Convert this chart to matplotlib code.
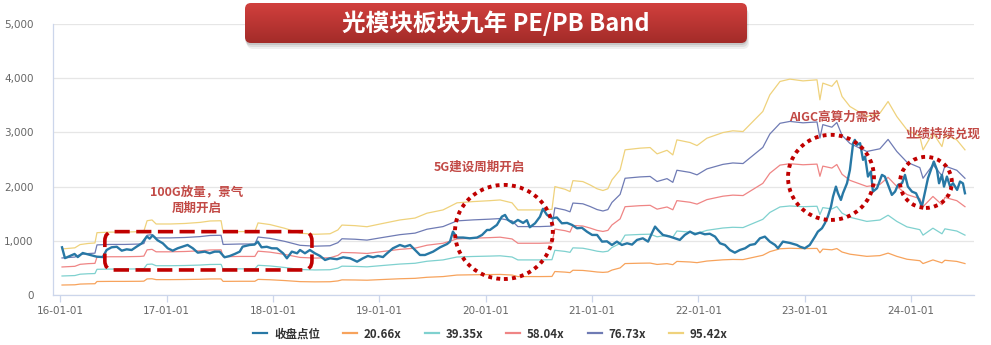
import matplotlib
matplotlib.use("Agg")
import matplotlib.pyplot as plt
import matplotlib.dates as mdates
from matplotlib.patches import FancyBboxPatch, Ellipse
from matplotlib.ticker import FuncFormatter, MultipleLocator
import numpy as np
import pandas as pd

plt.rcParams['font.family'] = ['Noto Sans CJK SC', 'DejaVu Sans']

# 收盘点位 (index close)
close_dates = [
    '2016-01-08', '2016-01-18', '2016-02-04', '2016-02-20', '2016-03-02', '2016-03-19',
    '2016-04-12', '2016-05-06', '2016-05-27', '2016-06-09', '2016-06-26', '2016-07-14',
    '2016-07-31', '2016-08-17', '2016-09-03', '2016-09-20', '2016-10-08', '2016-10-25',
    '2016-11-04', '2016-11-14', '2016-12-01', '2016-12-19', '2017-01-05', '2017-01-22',
    '2017-02-08', '2017-02-25', '2017-03-14', '2017-04-01', '2017-04-18', '2017-05-12',
    '2017-05-29', '2017-06-15', '2017-07-02', '2017-07-19', '2017-08-06', '2017-08-23',
    '2017-09-09', '2017-09-19', '2017-10-13', '2017-10-30', '2017-11-10', '2017-11-23',
    '2017-12-11', '2017-12-28', '2018-01-15', '2018-02-05', '2018-02-18', '2018-03-07',
    '2018-03-25', '2018-04-04', '2018-04-21', '2018-05-08', '2018-05-25', '2018-06-12',
    '2018-06-29', '2018-07-16', '2018-08-09', '2018-08-30', '2018-09-23', '2018-10-17',
    '2018-11-06', '2018-11-23', '2018-12-11', '2018-12-28', '2019-01-14', '2019-01-28',
    '2019-02-17', '2019-03-13', '2019-03-30', '2019-04-17', '2019-05-04', '2019-05-21',
    '2019-06-07', '2019-07-05', '2019-07-29', '2019-08-22', '2019-09-01', '2019-09-11',
    '2019-09-25', '2019-10-16', '2019-11-08', '2019-12-03', '2019-12-20', '2020-01-06',
    '2020-01-16', '2020-02-09', '2020-02-26', '2020-03-08', '2020-03-18', '2020-04-04',
    '2020-04-21', '2020-05-09', '2020-05-22', '2020-06-01', '2020-06-19', '2020-07-06',
    '2020-07-16', '2020-07-30', '2020-08-16', '2020-09-02', '2020-09-19', '2020-10-07',
    '2020-10-24', '2020-11-10', '2020-11-27', '2020-12-14', '2021-01-01', '2021-01-18',
    '2021-02-04', '2021-02-21', '2021-03-10', '2021-03-27', '2021-04-13', '2021-05-01',
    '2021-05-18', '2021-06-04', '2021-06-24', '2021-07-12', '2021-07-25', '2021-08-05',
    '2021-08-15', '2021-09-01', '2021-09-25', '2021-10-12', '2021-10-29', '2021-11-15',
    '2021-12-03', '2021-12-20', '2022-01-06', '2022-01-23', '2022-02-09', '2022-02-27',
    '2022-03-16', '2022-04-02', '2022-04-19', '2022-05-06', '2022-05-23', '2022-06-10',
    '2022-06-27', '2022-07-14', '2022-07-31', '2022-08-17', '2022-09-03', '2022-09-21',
    '2022-10-01', '2022-10-18', '2022-11-11', '2022-12-05', '2022-12-15', '2023-01-01',
    '2023-01-18', '2023-02-05', '2023-02-15', '2023-03-01', '2023-03-11', '2023-03-21',
    '2023-04-01', '2023-04-08', '2023-04-18', '2023-04-25', '2023-05-05', '2023-05-12',
    '2023-05-26', '2023-06-05', '2023-06-16', '2023-06-22', '2023-06-29', '2023-07-10',
    '2023-07-20', '2023-07-27', '2023-08-06', '2023-08-16', '2023-08-23', '2023-09-06',
    '2023-09-23', '2023-10-03', '2023-10-14', '2023-10-27', '2023-11-07', '2023-11-17',
    '2023-12-01', '2023-12-11', '2023-12-21', '2024-01-04', '2024-01-18', '2024-01-31',
    '2024-02-07', '2024-02-17', '2024-02-28', '2024-03-13', '2024-03-19', '2024-03-30',
    '2024-04-06', '2024-04-16', '2024-04-23', '2024-05-03', '2024-05-14', '2024-05-24',
    '2024-06-07', '2024-06-17', '2024-06-27', '2024-07-04',
]
close = [
    880, 680, 720, 757, 700, 775,
    740, 707, 700, 830, 880, 890,
    818, 843, 830, 892, 954, 1080,
    1040, 1100, 1010, 954, 862, 818,
    862, 892, 923, 862, 781, 800,
    770, 800, 800, 696, 720, 757,
    800, 892, 923, 930, 985, 880,
    890, 862, 860, 770, 677, 800,
    770, 830, 770, 830, 770, 720,
    646, 677, 660, 696, 677, 615,
    677, 720, 696, 720, 700, 770,
    862, 923, 892, 923, 830, 738,
    738, 800, 880, 941, 985, 1169,
    1060, 1060, 1046, 1060, 1108, 1200,
    1200, 1293, 1446, 1477, 1385, 1323,
    1385, 1330, 1380, 1250, 1323, 1446,
    1590, 1477, 1416, 1430, 1323, 1330,
    1293, 1231, 1240, 1169, 1108, 1108,
    985, 990, 923, 985, 923, 954,
    930, 1016, 1046, 985, 1139, 1262,
    1200, 1108, 1077, 1046, 1016, 1108,
    1169, 1120, 1150, 1120, 1130, 1077,
    954, 923, 830, 781, 830, 862,
    923, 940, 1046, 1077, 985, 923,
    862, 985, 960, 923, 892, 862,
    923, 1077, 1169, 1231, 1323, 1446,
    1631, 1815, 2000, 1877, 1754, 1877,
    2062, 2308, 2801, 2862, 2770, 2801,
    2493, 2555, 2185, 2278, 1908, 1970,
    2216, 2185, 2031, 1847, 1908, 2031,
    2062, 2216, 2000, 1908, 1877, 1723,
    1631, 1877, 2155, 2370, 2462, 2308,
    2062, 2216, 2000, 2185, 2000, 2062,
    1939, 2093, 2060, 1877,
]

# earnings per index point behind the PE bands
band_dates = [
    '2016-01-08', '2016-02-21', '2016-03-10', '2016-04-06', '2016-04-30', '2016-05-07',
    '2016-06-21', '2016-08-11', '2016-10-02', '2016-10-15', '2016-10-26', '2016-11-12',
    '2016-11-26', '2017-01-13', '2017-03-05', '2017-04-26', '2017-05-30', '2017-07-07',
    '2017-07-14', '2017-09-10', '2017-10-31', '2017-11-11', '2017-12-22', '2018-02-11',
    '2018-04-04', '2018-05-25', '2018-07-16', '2018-08-12', '2018-08-26', '2018-10-10',
    '2018-11-20', '2019-01-04', '2019-03-13', '2019-05-04', '2019-06-14', '2019-08-08',
    '2019-09-25', '2019-11-19', '2020-01-16', '2020-02-20', '2020-04-01', '2020-04-21',
    '2020-07-06', '2020-08-16', '2020-08-26', '2020-09-30', '2020-10-17', '2020-10-27',
    '2020-11-30', '2020-12-25', '2021-01-18', '2021-02-07', '2021-02-24', '2021-03-10',
    '2021-04-07', '2021-04-24', '2021-06-14', '2021-07-19', '2021-08-12', '2021-09-15',
    '2021-10-05', '2021-10-19', '2021-12-03', '2021-12-27', '2022-01-30', '2022-03-26',
    '2022-04-29', '2022-06-03', '2022-07-07', '2022-08-10', '2022-09-03', '2022-10-08',
    '2022-11-11', '2022-12-26', '2023-02-12', '2023-02-22', '2023-03-04', '2023-04-04',
    '2023-04-21', '2023-05-09', '2023-06-05', '2023-08-02', '2023-09-16', '2023-10-14',
    '2023-11-13', '2023-12-18', '2024-01-31', '2024-02-11', '2024-03-16', '2024-04-16',
    '2024-04-26', '2024-06-06', '2024-07-04',
]
eps = [
    8.91, 9.12, 9.75, 9.96, 10.06, 12.05,
    12.16, 12.16, 12.26, 12.37, 14.36, 14.51,
    13.73, 13.73, 13.83, 14.04, 14.31, 14.36,
    12.16, 12.26, 12.26, 13.94, 13.62, 12.89,
    11.95, 11.74, 11.84, 12.58, 13.52, 13.41,
    13.20, 13.73, 14.51, 14.88, 15.82, 16.45,
    17.82, 18.06, 18.24, 18.38, 17.82, 16.45,
    16.45, 16.56, 20.96, 20.44, 20.00, 22.11,
    21.93, 21.28, 20.54, 20.20, 20.54, 22.26,
    24.19, 28.07, 28.39, 28.51, 27.29, 27.98,
    27.09, 30.00, 29.48, 28.89, 30.32, 31.41,
    31.75, 31.61, 33.55, 35.49, 38.70, 41.29,
    41.74, 41.40, 41.61, 37.74, 40.97, 40.35,
    41.48, 38.38, 36.45, 34.51, 35.16, 37.41,
    34.51, 31.93, 30.63, 28.07, 31.33, 28.70,
    31.02, 29.99, 28.07,
]
pe_multiples = [20.66, 39.35, 58.04, 76.73, 95.42]
band_colors = ['#f7a35c', '#7fd1cf', '#ef8585', '#6f7bb4', '#efd27c']
close_color = '#2878a5'
mark_red = '#c00000'
note_red = '#c24a46'

close_dates = pd.to_datetime(close_dates)
band_dates = pd.to_datetime(band_dates)
eps = np.array(eps)

fig = plt.figure(figsize=(9.91, 3.45), dpi=100)
ax = fig.add_axes([53 / 991, 1 - 295 / 345, 921 / 991, 271 / 345])

handles = []
for m, c in zip(pe_multiples, band_colors):
    h, = ax.plot(band_dates, eps * m, color=c, lw=0.9, label=f'{m:.2f}x', zorder=2)
    handles.append(h)
h_close, = ax.plot(close_dates, close, color=close_color, lw=1.7, label='收盘点位', zorder=3)
handles.insert(0, h_close)

ax.set_ylim(0, 5000)
ax.set_xlim(pd.Timestamp('2015-12-08'), pd.Timestamp('2024-08-04'))
ax.yaxis.set_major_locator(MultipleLocator(1000))
ax.yaxis.set_major_formatter(FuncFormatter(lambda v, p: f'{int(v):,}'))
ax.xaxis.set_major_locator(mdates.YearLocator())
ax.xaxis.set_major_formatter(mdates.DateFormatter('%y-%m-%d'))
ax.grid(axis='y', color='#e6e6e6', lw=0.9)
ax.set_axisbelow(True)
for s in ['top', 'right']:
    ax.spines[s].set_visible(False)
for s in ['left', 'bottom']:
    ax.spines[s].set_color('#ccd6eb')
    ax.spines[s].set_linewidth(0.9)
ax.tick_params(axis='y', length=0, pad=14, labelsize=7.5, labelcolor='#666666')
ax.tick_params(axis='x', length=5, width=0.9, color='#ccd6eb', pad=3, labelsize=7.5, labelcolor='#666666')
for lab in ax.get_xticklabels() + ax.get_yticklabels():
    lab.set_family(['DejaVu Sans'])

# highlight shapes
xs_per_px = (mdates.date2num(pd.Timestamp('2024-08-04')) - mdates.date2num(pd.Timestamp('2015-12-08'))) / 921
ys_per_px = 5000 / 271
x0 = mdates.date2num(pd.Timestamp('2016-06-03'))
x1 = mdates.date2num(pd.Timestamp('2018-05-15'))
box = FancyBboxPatch((x0, 462), x1 - x0, 1169 - 462,
                     boxstyle=f'round,pad=0,rounding_size={9 * xs_per_px}',
                     mutation_aspect=ys_per_px / xs_per_px,
                     fill=False, ec=mark_red, lw=2.6, ls=(0, (4.2, 1.8)), zorder=5)
ax.add_patch(box)

circles = [('2020-03-04', 1163, 336, 1736),
           ('2023-04-01', 2170, 295, 1570),
           ('2024-02-21', 2078, 178, 942)]
for d, yc, w, hgt in circles:
    ax.add_patch(Ellipse((mdates.date2num(pd.Timestamp(d)), yc), w, hgt, fill=False,
                         ec=mark_red, lw=2.8, ls=(0, (1, 1.1)), zorder=5))

notes = [('100G放量，景气\n周期开启', '2017-04-15', 1750),
         ('5G建设周期开启', '2019-12-10', 2360),
         ('AIGC高算力需求', '2023-04-15', 3270),
         ('业绩持续兑现', '2024-04-20', 2960)]
for t, d, yv in notes:
    ax.text(pd.Timestamp(d), yv, t, color=note_red, fontsize=9, fontweight='bold',
            ha='center', va='center', linespacing=1.25, zorder=6)

leg = fig.legend(handles, [h.get_label() for h in handles], loc='center',
                 bbox_to_anchor=(0.495, 1 - 334 / 345), ncol=6, frameon=False,
                 fontsize=8.3, handlelength=1.2, handletextpad=0.6, columnspacing=2.0)
for t in leg.get_texts():
    t.set_color('#333333')
    t.set_fontweight('bold')
for lh in leg.legend_handles:
    lh.set_linewidth(1.6)

# title banner
tax = fig.add_axes([0, 0, 1, 1], zorder=10)
tax.set_xlim(0, 991)
tax.set_ylim(345, 0)
tax.axis('off')
for i, a in enumerate([0.10, 0.08, 0.06]):
    tax.add_patch(FancyBboxPatch((245 + i, 5 + 2 * i), 502, 40, boxstyle='round,pad=0,rounding_size=6',
                                 fc='#000000', ec='none', alpha=a))
banner = FancyBboxPatch((245, 3), 502, 40, boxstyle='round,pad=0,rounding_size=6',
                        fc='none', ec='none')
tax.add_patch(banner)
grad = np.linspace(0, 1, 64).reshape(-1, 1)
top = np.array([0.82, 0.25, 0.24])
bot = np.array([0.64, 0.17, 0.16])
img = top + (bot - top) * grad[..., None]
im = tax.imshow(np.repeat(img, 2, axis=1), extent=(245, 747, 43, 3), aspect='auto', zorder=2)
im.set_clip_path(banner)
tax.text(496, 23, '光模块板块九年 PE/PB Band', color='white', fontsize=17, fontweight='bold',
         ha='center', va='center', zorder=3)

fig.savefig('out.png', dpi=100)
